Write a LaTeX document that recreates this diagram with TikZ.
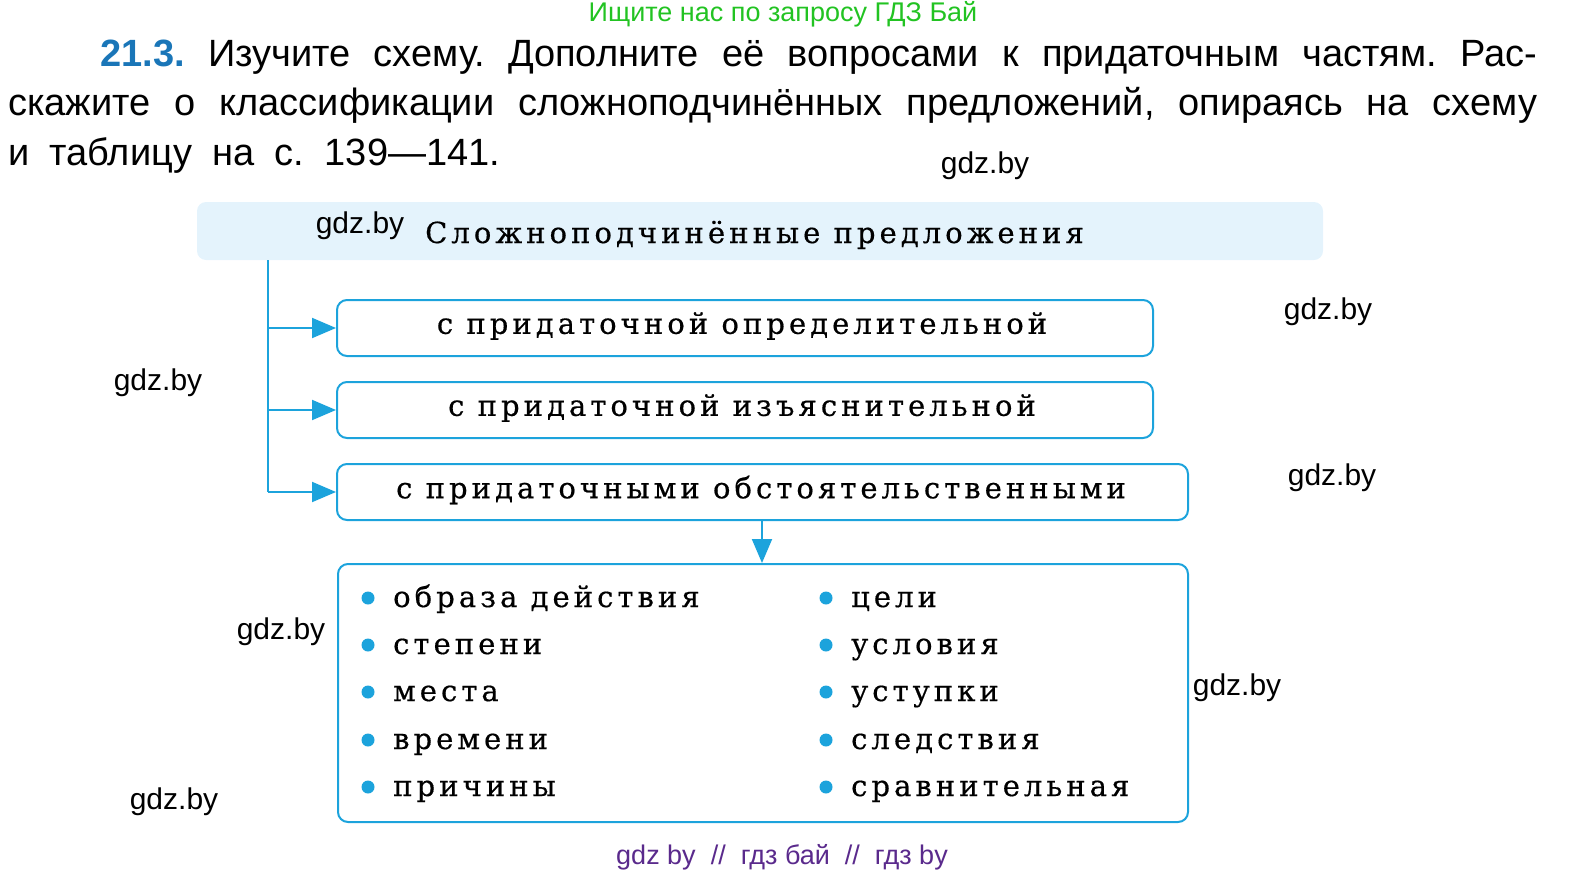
\documentclass[tikz,border=0pt]{standalone}
\usepackage{fontspec}
\setmainfont{DejaVu Serif}
\newfontfamily\hdrfont{Liberation Sans}
\newfontfamily\serifsp[LetterSpace=14,FakeBold=0.5]{DejaVu Serif}
\usetikzlibrary{arrows.meta}
\frenchspacing
\definecolor{cyanline}{HTML}{1CA3DC}
\definecolor{hdrfill}{HTML}{E4F3FC}
\definecolor{numblue}{HTML}{1A76B8}
\definecolor{greenwm}{HTML}{22C322}
\definecolor{purplewm}{HTML}{5A2A8C}
\tikzset{
  wm/.style={font=\hdrfont\fontsize{30}{32}\selectfont, inner sep=0pt},
  taskline/.style={font=\hdrfont\fontsize{38}{46}\selectfont\frenchspacing, inner sep=0pt, anchor=base west},
  catbox/.style={draw=cyanline, line width=2pt, rounded corners=10pt, inner sep=0pt},
  conn/.style={draw=cyanline, line width=2pt},
  arr/.style={conn, -{Triangle[length=24pt,width=20pt]}},
  boxtext/.style={font=\serifsp\fontsize{29}{31}\selectfont, inner sep=0pt},
  item/.style={font=\serifsp\fontsize{29}{31}\selectfont, inner sep=0pt, anchor=base west},
  dot/.style={fill=cyanline, draw=none}
}
\begin{document}
\begin{tikzpicture}[x=1pt,y=-1pt]
\useasboundingbox (0,0) rectangle (1586,886);
% top watermark
\node[font=\hdrfont\fontsize{27}{29}\selectfont, text=greenwm, inner sep=0pt] (topwm) at (783,14) {Ищите нас по запросу ГДЗ Бай};
% task text
\node[taskline] (t1) at (100,66) {\makebox[1437pt][s]{{\bfseries\color{numblue}21.3.} Изучите схему. Дополните её вопросами к придаточным частям. Рас-}};
\node[taskline] (t2) at (8,115) {\makebox[1529pt][s]{скажите о классификации сложноподчинённых предложений, опираясь на схему}};
\node[taskline] (t3) at (8,165) {\makebox[492pt][s]{и таблицу на с. 139—141.}};
% header box
\node[fill=hdrfill, rounded corners=9pt, minimum width=1126pt, minimum height=58pt, inner sep=0pt] (hdr) at (760,231) {};
\node[boxtext, anchor=base west] (hdrtxt) at (425,243) {Сложноподчинённые предложения};
% category boxes
\node[catbox, minimum width=816pt, minimum height=56pt] (b1) at (745,328) {};
\node[boxtext] (b1t) at (742,326) {с придаточной определительной};
\node[catbox, minimum width=816pt, minimum height=56pt] (b2) at (745,410) {};
\node[boxtext] (b2t) at (742,408) {с придаточной изъяснительной};
\node[catbox, minimum width=851pt, minimum height=56pt] (b3) at (762.5,492) {};
\node[boxtext] (b3t) at (761,490) {с придаточными обстоятельственными};
\node[catbox, minimum width=850pt, minimum height=258pt] (b4) at (763,693) {};
% connectors
\coordinate (top) at (268,260);
\coordinate (j1) at (268,328);
\coordinate (j2) at (268,410);
\coordinate (j3) at (268,492);
\draw[conn] (top) -- (j3);
\draw[arr] (j1) -- (b1.west);
\draw[arr] (j2) -- (b2.west);
\draw[arr] (j3) -- (b3.west);
\draw[arr] (b3.south -| 762,0) -- (b4.north -| 762,0);
% list items
\foreach \t/\y [count=\i] in {образа действия/598, степени/645, места/692, времени/740, причины/787}{
  \fill[dot] (368,\y) circle (6.5pt);
  \node[item] (l\i) at (393,\y+9) {\t};
}
\foreach \t/\y [count=\i] in {цели/598, условия/645, уступки/692, следствия/740, сравнительная/787}{
  \fill[dot] (826,\y) circle (6.5pt);
  \node[item] (r\i) at (851,\y+9) {\t};
}
% watermarks
\node[wm] (w1) at (985,166) {gdz.by};
\node[wm] (w2) at (360,226) {gdz.by};
\node[wm] (w3) at (1328,312) {gdz.by};
\node[wm] (w4) at (158,383) {gdz.by};
\node[wm] (w5) at (1332,478) {gdz.by};
\node[wm] (w6) at (281,632) {gdz.by};
\node[wm] (w7) at (1237,688) {gdz.by};
\node[wm] (w8) at (174,802) {gdz.by};
\node[font=\hdrfont\fontsize{27}{29}\selectfont, text=purplewm, inner sep=0pt] (botwm) at (782,857) {gdz by \ // \ гдз бай \ // \ гдз by};
\end{tikzpicture}
\end{document}
